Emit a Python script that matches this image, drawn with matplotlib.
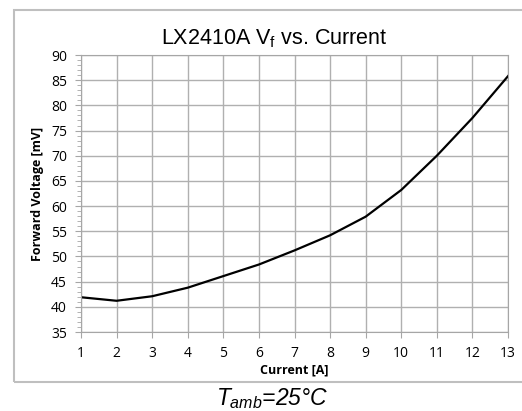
import numpy as np
import matplotlib
matplotlib.use('Agg')
import matplotlib.pyplot as plt
from matplotlib.patches import Rectangle
from matplotlib.ticker import MultipleLocator

# data
current = [1, 2, 3, 4, 5, 6, 7, 8, 9, 10, 11, 12, 13]
vf_mv = [41.9, 41.2, 42.1, 43.8, 46.1, 48.4, 51.2, 54.2, 57.9, 63.2, 70.0, 77.5, 85.8]

plt.rcParams['mathtext.fontset'] = 'custom'
plt.rcParams['mathtext.rm'] = 'Liberation Sans'
plt.rcParams['mathtext.it'] = 'Liberation Sans:italic'

fig = plt.figure(figsize=(5.22, 4.11), dpi=100)
W, H = 522, 411

# outer chart frame (runs off the right edge)
fig.patches.append(Rectangle((14 / W, 1 - 382 / H), 520 / W, 372 / H,
                             transform=fig.transFigure, fill=False,
                             edgecolor='#bfbfbf', linewidth=1.5))

ax = fig.add_axes([81 / W, 1 - 332 / H, 427 / W, 277 / H])
ax.plot(current, vf_mv, color='black', linewidth=1.6)

ax.set_xlim(1, 13)
ax.set_ylim(35, 90)
ax.set_xticks(current)
ax.yaxis.set_major_locator(MultipleLocator(5))
ax.yaxis.set_minor_locator(MultipleLocator(1))
ax.grid(True, which='major', color='#b0b0b0', linewidth=1.0)

for s in ax.spines.values():
    s.set_color('#a6a6a6')

tick_font = 'Open Sans'
ax.tick_params(axis='both', which='major', direction='out', length=4,
               color='#a6a6a6', labelsize=10, pad=6)
ax.tick_params(axis='y', which='minor', direction='out', length=3, color='#a6a6a6')
for lab in ax.get_xticklabels() + ax.get_yticklabels():
    lab.set_fontfamily(tick_font)

ax.set_xlabel('Current [A]', fontfamily=tick_font, fontweight='bold', fontsize=9, labelpad=2)
ax.set_ylabel('Forward Voltage [mV]', fontfamily=tick_font, fontweight='bold', fontsize=9, labelpad=5)

fig.text(274 / W, 1 - 39 / H, r'LX2410A V$_\mathrm{f}$ vs. Current',
         ha='center', va='center', fontfamily='Liberation Sans', fontsize=15.5)
fig.text(272 / W, 1 - 399 / H, r'$T_{amb}$=25°C', ha='center', va='center',
         fontfamily='Liberation Sans', style='italic', fontsize=16.5)

fig.savefig('out.png', dpi=100)
